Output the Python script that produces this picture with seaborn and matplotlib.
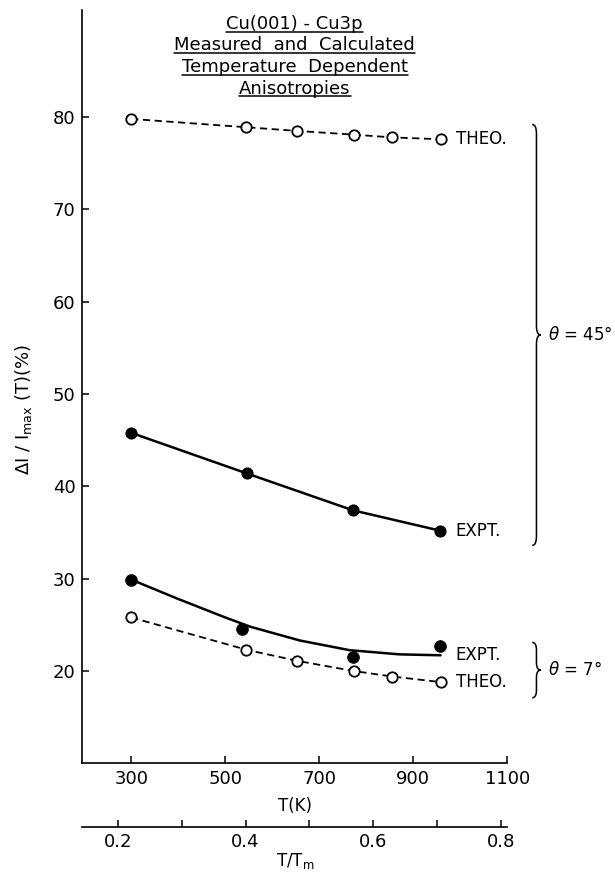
import numpy as np
import pandas as pd
import matplotlib
matplotlib.use('Agg')
import matplotlib.pyplot as plt
import seaborn as sns
from matplotlib.path import Path
from matplotlib.patches import PathPatch
from matplotlib.lines import Line2D

# Cu melting point (K), used for the T/Tm axis
T_MELT = 1358

# theta = 45 deg
theo45_T = [300, 545, 653, 773, 855, 958]
theo45_val = [79.8, 78.9, 78.5, 78.1, 77.8, 77.6]
expt45_T = [300, 546, 772, 957]
expt45_val = [45.8, 41.4, 37.4, 35.2]

# theta = 7 deg
theo7_T = [300, 545, 653, 773, 855, 958]
theo7_val = [25.8, 22.3, 21.1, 20.0, 19.4, 18.8]
expt7_T = [300, 535, 772, 957]
expt7_val = [29.9, 24.5, 21.5, 22.7]
# hand-drawn smooth curve through the 7 deg points
fit7_T = [300, 400, 500, 553, 659, 765, 871, 958]
fit7_val = [29.9, 27.8, 25.8, 24.8, 23.3, 22.25, 21.8, 21.7]

title_lines = ['Cu(001) - Cu3p', 'Measured  and  Calculated',
               'Temperature  Dependent', 'Anisotropies']

sns.set_style('ticks')
plt.rcParams['font.family'] = ['DejaVu Sans']
plt.rcParams.update({'text.color': 'black', 'axes.labelcolor': 'black',
                     'xtick.color': 'black', 'ytick.color': 'black',
                     'axes.edgecolor': 'black'})

W, H = 615, 873
fig = plt.figure(figsize=(W / 100, H / 100), dpi=100)
ax = fig.add_axes([82.3 / W, 1 - 763.3 / H, 425 / W, 753.3 / H])

# ---- series
theo_kw = dict(color='black', lw=1.3, linestyle=(0, (4, 2.5)), marker='o',
               markersize=7.5, markerfacecolor='white', markeredgecolor='black',
               markeredgewidth=1.3)
sns.lineplot(x=theo45_T, y=theo45_val, ax=ax, **theo_kw)
sns.lineplot(x=theo7_T, y=theo7_val, ax=ax, **theo_kw)

sns.lineplot(x=expt45_T, y=expt45_val, ax=ax, color='black', lw=1.8, marker='o',
             markersize=8, markerfacecolor='black', markeredgecolor='black')
sns.lineplot(x=fit7_T, y=fit7_val, ax=ax, color='black', lw=1.8)
sns.scatterplot(x=expt7_T, y=expt7_val, ax=ax, color='black', s=70,
                edgecolor='black', zorder=5)

# ---- curve labels
lab_kw = dict(xytext=(11, 0), textcoords='offset points', va='center', ha='left',
              fontsize=12)
ax.annotate('THEO.', (theo45_T[-1], theo45_val[-1]), **lab_kw)
ax.annotate('EXPT.', (expt45_T[-1], expt45_val[-1]), **lab_kw)
ax.annotate('EXPT.', (fit7_T[-1], fit7_val[-1]), **lab_kw)
ax.annotate('THEO.', (theo7_T[-1], theo7_val[-1]), **lab_kw)


# ---- braces
def brace(ax, x0, ytop, ybot, w=9, r=1.0):
    ymid = (ytop + ybot) / 2
    verts = [(x0 - w, ytop), (x0, ytop), (x0, ytop - r),
             (x0, ymid + r), (x0, ymid), (x0 + w, ymid),
             (x0, ymid), (x0, ymid - r),
             (x0, ybot + r), (x0, ybot), (x0 - w, ybot)]
    codes = [Path.MOVETO, Path.CURVE3, Path.CURVE3,
             Path.LINETO, Path.CURVE3, Path.CURVE3,
             Path.CURVE3, Path.CURVE3,
             Path.LINETO, Path.CURVE3, Path.CURVE3]
    ax.add_patch(PathPatch(Path(verts, codes), fill=False, lw=1.1,
                           color='black', clip_on=False))
    return ymid


m45 = brace(ax, 1162, 79.2, 33.6)
m7 = brace(ax, 1162, 23.1, 17.1, r=0.8)
ax.text(1186, m45, r'$\theta$ = 45°', fontsize=12, va='center', ha='left',
        clip_on=False)
ax.text(1186, m7, r'$\theta$ = 7°', fontsize=12, va='center', ha='left',
        clip_on=False)

# ---- axes
ax.set_xlim(196, 1100)
ax.set_ylim(10, 91.6)
ax.set_xticks([300, 500, 700, 900, 1100])
ax.set_yticks([20, 30, 40, 50, 60, 70, 80])
ax.tick_params(direction='in', length=5, width=1.1, labelsize=13, pad=5)
sns.despine(ax=ax)
for s in ['left', 'bottom']:
    ax.spines[s].set_linewidth(1.2)

ax.set_xlabel('T(K)', fontsize=12)
ax.xaxis.set_label_coords(0.5, -0.045)
ax.set_ylabel(r'ΔI / I$_{\mathrm{max}}$ (T)(%)', fontsize=13)
ax.yaxis.set_label_coords(-0.114, 0.469)

sec = ax.secondary_xaxis(-0.085, functions=(lambda t: t / T_MELT,
                                             lambda r: r * T_MELT))
sec.set_xticks([0.2, 0.4, 0.6, 0.8])
sec.set_xticks([0.3, 0.5, 0.7], minor=True)
sec.tick_params(which='both', direction='in', length=5, width=1.1,
                labelsize=13, pad=4)
sec.spines['bottom'].set_linewidth(1.2)
sec.set_xlabel('T/T$_{\\mathrm{m}}$', fontsize=12, labelpad=0)

# ---- title block with underlines
baselines = [29, 50.5, 72, 93.5]
cx = (82.3 + 212.5) / W
texts = []
for line, b in zip(title_lines, baselines):
    texts.append(fig.text(cx, 1 - b / H, line, ha='center', va='baseline',
                          fontsize=13))
fig.canvas.draw()
rend = fig.canvas.get_renderer()
for t, b in zip(texts, baselines):
    bb = t.get_window_extent(rend)
    y = 1 - (b + 2.5) / H
    fig.add_artist(Line2D([bb.x0 / W, bb.x1 / W], [y, y], color='black', lw=1.1))

fig.savefig('out.png', dpi=100)
